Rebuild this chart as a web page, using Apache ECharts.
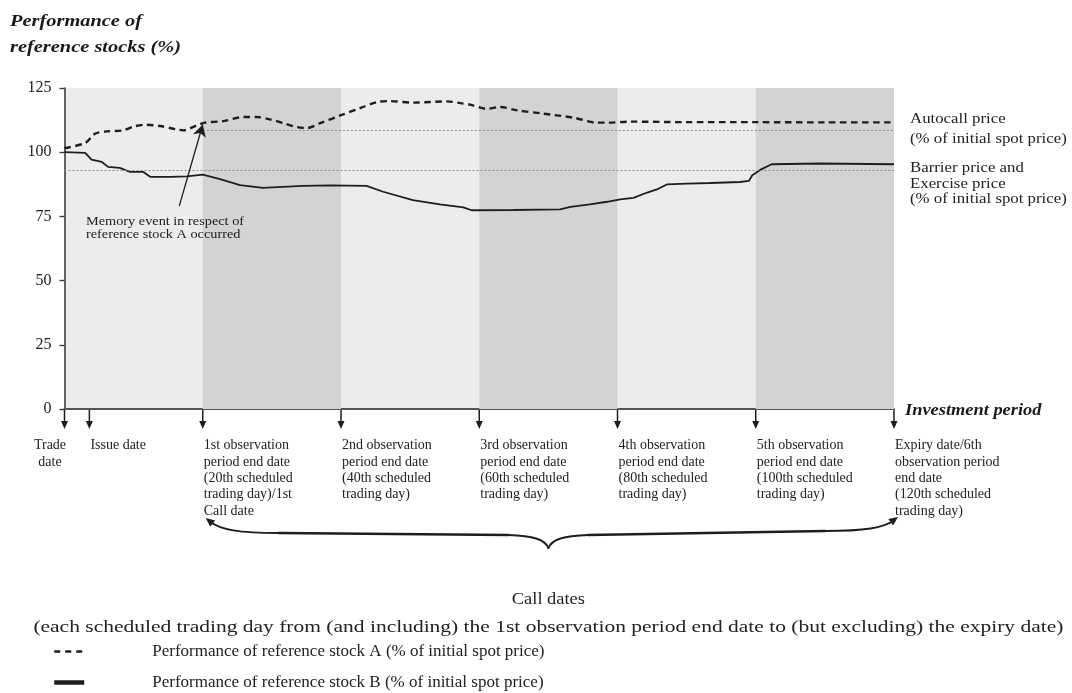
<!DOCTYPE html>
<html><head><meta charset="utf-8">
<script src="https://cdn.jsdelivr.net/npm/echarts@6/dist/echarts.min.js"></script>
<style>html,body{margin:0;padding:0;background:#fff}#c{width:1072px;height:693px}</style>
</head><body><div id="c"></div>
<script>
const SERIF = '"Liberation Serif","Times New Roman","DejaVu Serif",serif';
const INK = '#1e1e1e';

// ---- data (trading days since trade date, % of initial spot price) ----
const stockADays   = [0, 3.0, 4.4, 6.1, 8.5, 10, 11.7, 13.8, 16.2, 17.2, 19.1, 20.3, 23, 25.9, 27.8, 29.7, 31.7, 33.6, 35.1, 37, 39.9, 42.8, 45.2, 46.9, 50.5, 55.3, 57.3, 58.7, 61.1, 63, 65.5, 69.3, 73.7, 77, 78.5, 81.9, 90, 100, 110, 120];
const stockAValues = [101.6, 103.6, 107.2, 108.1, 108.5, 110.0, 110.7, 110.2, 108.9, 108.5, 110.4, 111.5, 112.1, 113.7, 113.7, 112.8, 111.3, 109.8, 109.4, 111.3, 114.3, 117.2, 119.5, 119.9, 119.3, 119.8, 119.1, 118.5, 116.9, 117.6, 116.3, 115.0, 113.4, 111.5, 111.5, 111.9, 111.7, 111.7, 111.6, 111.6];
const stockBDays   = [0, 3, 3.9, 5.4, 6.3, 8, 9.5, 11.4, 12.4, 15.3, 17.7, 20, 22.5, 25.4, 28.7, 31.6, 34.5, 38.4, 43.7, 46.1, 50.4, 54.3, 57.7, 58.9, 65, 71.7, 73.2, 76, 78.5, 80.4, 82.3, 84.3, 85.7, 87.2, 90, 93.4, 97.7, 99, 99.5, 100.7, 102.3, 109.3, 120];
const stockBValues = [100, 99.7, 97.1, 96.2, 94.3, 93.9, 92.3, 92.3, 90.4, 90.4, 90.6, 91.3, 89.5, 87.2, 86.1, 86.5, 86.9, 87.1, 86.9, 84.6, 81.3, 79.7, 78.5, 77.4, 77.5, 77.7, 78.7, 79.7, 80.7, 81.6, 82.2, 84.3, 85.5, 87.5, 87.8, 88.0, 88.4, 88.8, 91.0, 93.2, 95.3, 95.6, 95.3];
const autocallPrice = 108.5;
const barrierPrice = 93;
const observationBands = [[20, 40], [60, 80], [100, 120]];
const memoryEvent = { fromDay: 16.6, fromValue: 79, toDay: 20, toValue: 110.8 };
const markerDays = [0, 3.6, 20, 40, 60, 80, 100, 120];
const markerLabels = [
  'Trade\ndate',
  'Issue date',
  '1st observation\nperiod end date\n(20th scheduled\ntrading day)/1st\nCall date',
  '2nd observation\nperiod end date\n(40th scheduled\ntrading day)',
  '3rd observation\nperiod end date\n(60th scheduled\ntrading day)',
  '4th observation\nperiod end date\n(80th scheduled\ntrading day)',
  '5th observation\nperiod end date\n(100th scheduled\ntrading day)',
  'Expiry date/6th\nobservation period\nend date\n(120th scheduled\ntrading day)'
];
const seriesNames = [
  'Performance of reference stock A (% of initial spot price)',
  'Performance of reference stock B (% of initial spot price)'
];
const yMin = 0, yMax = 125, yStep = 25;
const callDatesText = 'Call dates';
const callDatesNote = '(each scheduled trading day from (and including) the 1st observation period end date to (but excluding) the expiry date)';

const zip = (xs, ys) => xs.map((x, i) => [x, ys[i]]);

const chart = echarts.init(document.getElementById('c'));
chart.setOption({
  animation: false,
  backgroundColor: '#ffffff',
  grid: { left: 64.5, right: 178, top: 88, bottom: 284, show: true, backgroundColor: '#ececec', borderWidth: 0 },
  xAxis: {
    type: 'value', min: 0, max: 120,
    axisLine: { show: true, onZero: false, lineStyle: { color: '#555', width: 2 } },
    axisTick: { show: false }, axisLabel: { show: false }, splitLine: { show: false }
  },
  yAxis: {
    type: 'value', min: yMin, max: yMax, interval: yStep,
    axisLine: { show: true, lineStyle: { color: '#333', width: 1.5 } },
    axisTick: { show: true, length: 5, lineStyle: { color: '#333', width: 1.3 } },
    axisLabel: { color: '#222', fontFamily: SERIF, fontSize: 16, margin: 13 },
    splitLine: { show: false }
  },
  legend: {
    orient: 'vertical', left: 52, top: 643, padding: 0, itemWidth: 30, itemHeight: 14, itemGap: 14,
    selectedMode: false,
    textStyle: { fontFamily: SERIF, fontSize: 17, color: '#222', padding: [0, 0, 0, 63] },
    data: [
      { name: seriesNames[0], lineStyle: { width: 2.4, type: [6, 5], color: INK }, itemStyle: { opacity: 0 } },
      { name: seriesNames[1], lineStyle: { width: 4.5, color: INK }, itemStyle: { opacity: 0 } }
    ]
  },
  series: [
    {
      name: 'bands', type: 'line', data: [], z: 1, silent: true,
      markArea: {
        silent: true,
        itemStyle: { color: '#d3d3d6' },
        data: observationBands.map(b => [{ xAxis: b[0] }, { xAxis: b[1] }])
      }
    },
    {
      name: seriesNames[1], type: 'line', data: zip(stockBDays, stockBValues), z: 3,
      symbol: 'none', silent: true,
      itemStyle: { color: INK },
      lineStyle: { color: INK, width: 1.8 },
      markLine: {
        silent: true, symbol: 'none', label: { show: false },
        lineStyle: { color: '#8c8c8c', width: 1, type: [2, 2] },
        emphasis: { disabled: true },
        data: [
          [{ coord: [20, autocallPrice] }, { coord: [120, autocallPrice] }],
          [{ coord: [0, barrierPrice] }, { coord: [120, barrierPrice] }]
        ]
      }
    },
    {
      name: seriesNames[0], type: 'line', data: zip(stockADays, stockAValues), z: 4,
      symbol: 'none', smooth: 0.3, silent: true,
      itemStyle: { color: INK },
      lineStyle: { color: INK, width: 2.4, type: [6.5, 4.5] },
      markLine: {
        silent: true, symbol: ['none', 'arrow'], symbolSize: [10, 12], label: { show: false },
        lineStyle: { color: INK, width: 1.3, type: 'solid' },
        emphasis: { disabled: true },
        data: [[{ coord: [memoryEvent.fromDay, memoryEvent.fromValue] }, { coord: [memoryEvent.toDay, memoryEvent.toValue] }]]
      }
    },
    {
      name: 'markers', type: 'custom', z: 5, silent: true, clip: false,
      data: markerDays.map((d, i) => [d, i]),
      encode: { x: 0 },
      renderItem: function (params, api) {
        const i = api.value(1);
        const p = api.coord([api.value(0), 0]);
        const x = p[0], y = p[1];
        const isTrade = i === 0;
        return {
          type: 'group',
          children: [
            { type: 'line', shape: { x1: x, y1: y + 1, x2: x, y2: y + 14 }, style: { stroke: INK, lineWidth: 1.5 } },
            { type: 'polygon', shape: { points: [[x - 3.5, y + 12], [x + 3.5, y + 12], [x, y + 20]] }, style: { fill: INK } },
            {
              type: 'text', x: isTrade ? x - 14.5 : x + 1, y: y + 28.5,
              style: {
                text: markerLabels[i], fill: '#222', fontFamily: SERIF, fontSize: 14,
                align: isTrade ? 'center' : 'left', textAlign: isTrade ? 'center' : 'left',
                verticalAlign: 'top', textVerticalAlign: 'top', lineHeight: 16.3
              }
            }
          ]
        };
      }
    }
  ]
});

// ---- annotations placed through the chart's own scales ----
function px(d, v) { return chart.convertToPixel({ gridIndex: 0 }, [d, v]); }
function txt(text, x, y, opt) {
  opt = opt || {};
  return {
    type: 'text', x: x, y: y, scaleX: opt.sx || 1, z: 10, silent: true,
    style: {
      text: text, fill: opt.fill || '#222', fontFamily: SERIF, fontSize: opt.size || 14,
      fontWeight: opt.bold ? 'bold' : 'normal', fontStyle: opt.italic ? 'italic' : 'normal',
      align: opt.align || 'left', textAlign: opt.align || 'left',
      verticalAlign: opt.va || 'middle', textVerticalAlign: opt.va || 'middle',
      lineHeight: opt.lh || undefined
    }
  };
}
function arrowHead(tip, from, len, half) {
  const dx = tip[0] - from[0], dy = tip[1] - from[1];
  const n = Math.hypot(dx, dy); const ux = dx / n, uy = dy / n;
  const bx = tip[0] - ux * len, by = tip[1] - uy * len;
  return { type: 'polygon', z: 10, silent: true, shape: { points: [tip, [bx - uy * half, by + ux * half], [bx + uy * half, by - ux * half]] }, style: { fill: INK } };
}
function bez(a, c1, c2, b, w) {
  return { type: 'bezierCurve', z: 10, silent: true,
    shape: { x1: a[0], y1: a[1], cpx1: c1[0], cpy1: c1[1], cpx2: c2[0], cpy2: c2[1], x2: b[0], y2: b[1] },
    style: { fill: null, stroke: INK, lineWidth: w, lineCap: 'round' } };
}
function seg(a, b, w) {
  return { type: 'line', z: 10, silent: true, shape: { x1: a[0], y1: a[1], x2: b[0], y2: b[1] },
    style: { stroke: INK, lineWidth: w, lineCap: 'round' } };
}

const xL = px(20, 0)[0] + 6;
const xR = px(120, 0)[0] + 1;
const xM = px(70, 0)[0];
const base = px(0, 0)[1];
const bTop = base + 112;

const braceParts = [
  bez([xL, bTop], [xL + 12, bTop + 9], [xL + 30, bTop + 12], [xL + 70, bTop + 12], 1.8),
  seg([xL + 70, bTop + 12], [xM - 40, bTop + 14], 2.3),
  bez([xM - 40, bTop + 14], [xM - 15, bTop + 15], [xM - 4, bTop + 18], [xM, bTop + 27], 2.0),
  bez([xM, bTop + 27], [xM + 4, bTop + 18], [xM + 15, bTop + 15], [xM + 40, bTop + 14], 2.0),
  seg([xM + 40, bTop + 14], [xR - 70, bTop + 10], 2.3),
  bez([xR - 70, bTop + 10], [xR - 30, bTop + 10], [xR - 12, bTop + 7], [xR, bTop - 1], 1.8),
  arrowHead([xL - 3, bTop - 3], [xL + 8, bTop + 6], 9, 4),
  arrowHead([xR + 3, bTop - 4], [xR - 8, bTop + 4], 9, 4)
];

const ctx = document.createElement('canvas').getContext('2d');
ctx.font = '16.5px "Liberation Serif"';
const noteW = ctx.measureText(callDatesNote).width || 800;
const noteScale = 1030 / noteW;

chart.setOption({
  graphic: [
    txt('Performance of', 10, 21.5, { size: 17, bold: true, italic: true, sx: 1.2, fill: '#1a1a1a' }),
    txt('reference stocks (%)', 10, 47.5, { size: 17, bold: true, italic: true, sx: 1.2, fill: '#1a1a1a' }),
    txt('Autocall price', 910, 119.5, { size: 14, sx: 1.2 }),
    txt('(% of initial spot price)', 910, 139, { size: 14, sx: 1.2 }),
    txt('Barrier price and', 910, 168.5, { size: 14, sx: 1.2 }),
    txt('Exercise price', 910, 184, { size: 14, sx: 1.2 }),
    txt('(% of initial spot price)', 910, 199, { size: 14, sx: 1.2 }),
    txt('Memory event in respect of\nreference stock A occurred', 86, 215.5, { size: 13, sx: 1.1, va: 'top', lh: 12.5 }),
    txt('Investment period', xR + 10, base + 1.5, { size: 16, bold: true, italic: true, sx: 1.15, fill: '#1a1a1a' }),
    txt(callDatesText, xM, 600, { size: 16, sx: 1.15, align: 'center' }),
    txt(callDatesNote, xM, 628, { size: 16.5, sx: noteScale, align: 'center' })
  ].concat(braceParts)
});
</script></body></html>
